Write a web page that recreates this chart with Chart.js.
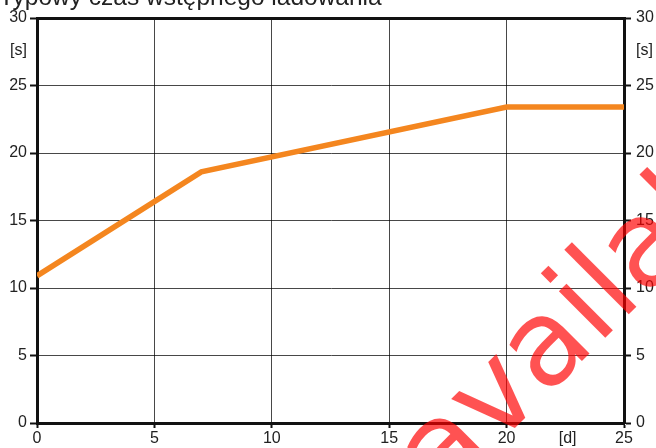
<!DOCTYPE html>
<html>
<head>
<meta charset="utf-8">
<script src="https://cdn.jsdelivr.net/npm/chart.js@4.4.1/dist/chart.umd.min.js"></script>
<style>
  html, body { margin: 0; padding: 0; background: #fff; }
</style>
</head>
<body>
<canvas id="myChart" width="656" height="448"></canvas>
<script>
const TITLE = 'Typowy czas wstępnego ładowania';
const days = [0, 7, 20, 25];
const seconds = [10.9, 18.6, 23.4, 23.4];
const xTicks = [0, 5, 10, 15, 20, 22.6, 25];
const yTicks = [0, 5, 10, 15, 20, 25, 27.6, 30];
const X_UNIT = 22.6;
const Y_UNIT = 27.6;
const WATERMARK = 'available';

const FONT = 'Liberation Sans, Arial, sans-serif';
const GRID = 'rgba(0,0,0,0.72)';

const ctx = document.getElementById('myChart').getContext('2d');

const titlePlugin = {
  id: 'topTitle',
  afterDraw(chart) {
    const c = chart.ctx;
    c.save();
    c.font = '24.5px ' + FONT;
    c.fillStyle = '#222';
    c.textBaseline = 'alphabetic';
    c.fillText(TITLE, -1, 5);
    c.restore();
  },
};

// red stamp across the lower right corner
const watermarkPlugin = {
  id: 'watermark',
  afterDraw(chart) {
    const c = chart.ctx;
    c.save();
    c.translate(443, 500);
    c.rotate(-45 * Math.PI / 180);
    c.font = '120px "DejaVu Sans", sans-serif';
    c.fillStyle = 'rgba(255,0,0,0.68)';
    c.textBaseline = 'alphabetic';
    c.fillText(WATERMARK, 0, 0);
    c.restore();
  },
};

function setTicks(list) {
  return (scale) => {
    scale.ticks = list.map((v) => ({ value: v }));
  };
}

const tickFont = { family: FONT, size: 16 };

const chart = new Chart(ctx, {
  type: 'line',
  data: {
    datasets: [
      {
        data: days.map((d, i) => ({ x: d, y: seconds[i] })),
        borderColor: '#F4861F',
        borderWidth: 5.5,
        pointRadius: 0,
        tension: 0,
        fill: false,
        borderCapStyle: 'butt',
        borderJoinStyle: 'miter',
      },
    ],
  },
  options: {
    responsive: false,
    animation: false,
    layout: { padding: { top: 18, left: 0, right: 0, bottom: 0 } },
    scales: {
      x: {
        type: 'linear',
        position: 'bottom',
        min: 0,
        max: 25,
        afterBuildTicks: setTicks(xTicks),
        afterFit: (s) => { s.height = 25; },
        ticks: {
          font: tickFont,
          color: '#222',
          padding: 1,
          maxRotation: 0,
          autoSkip: false,
          callback: (v) => (v === X_UNIT ? '[d]' : v),
        },
        grid: {
          color: (c) => (c.tick && c.tick.value === X_UNIT ? 'transparent' : GRID),
          tickColor: (c) => (c.tick && c.tick.value === X_UNIT ? 'transparent' : '#111'),
          lineWidth: 1,
          tickWidth: 2,
          tickLength: 5,
        },
        border: { color: '#111', width: 3 },
      },
      xTop: {
        type: 'linear',
        position: 'top',
        min: 0,
        max: 25,
        afterFit: (s) => { s.height = 0; },
        ticks: { display: false },
        grid: { display: false, drawTicks: false },
        border: { color: '#111', width: 3 },
      },
      y: {
        type: 'linear',
        position: 'left',
        min: 0,
        max: 30,
        afterBuildTicks: setTicks(yTicks),
        afterFit: (s) => { s.width = 37; },
        ticks: {
          font: tickFont,
          color: '#222',
          padding: 3,
          autoSkip: false,
          callback: (v) => (v === Y_UNIT ? '[s]' : v),
        },
        grid: {
          color: (c) => (c.tick && c.tick.value === Y_UNIT ? 'transparent' : GRID),
          tickColor: (c) => (c.tick && c.tick.value === Y_UNIT ? 'transparent' : '#111'),
          lineWidth: 1,
          tickWidth: 2,
          tickLength: 7,
        },
        border: { color: '#111', width: 3 },
      },
      y2: {
        type: 'linear',
        position: 'right',
        min: 0,
        max: 30,
        afterBuildTicks: setTicks(yTicks),
        afterFit: (s) => { s.width = 32; },
        ticks: {
          font: tickFont,
          color: '#222',
          padding: 5,
          autoSkip: false,
          callback: (v) => (v === Y_UNIT ? '[s]' : v),
        },
        grid: {
          drawOnChartArea: false,
          tickColor: (c) => (c.tick && c.tick.value === Y_UNIT ? 'transparent' : '#111'),
          tickWidth: 2,
          tickLength: 7,
        },
        border: { color: '#111', width: 3 },
      },
    },
    plugins: {
      legend: { display: false },
      tooltip: { enabled: false },
      title: { display: false },
    },
  },
  plugins: [titlePlugin, watermarkPlugin],
});
</script>
</body>
</html>
